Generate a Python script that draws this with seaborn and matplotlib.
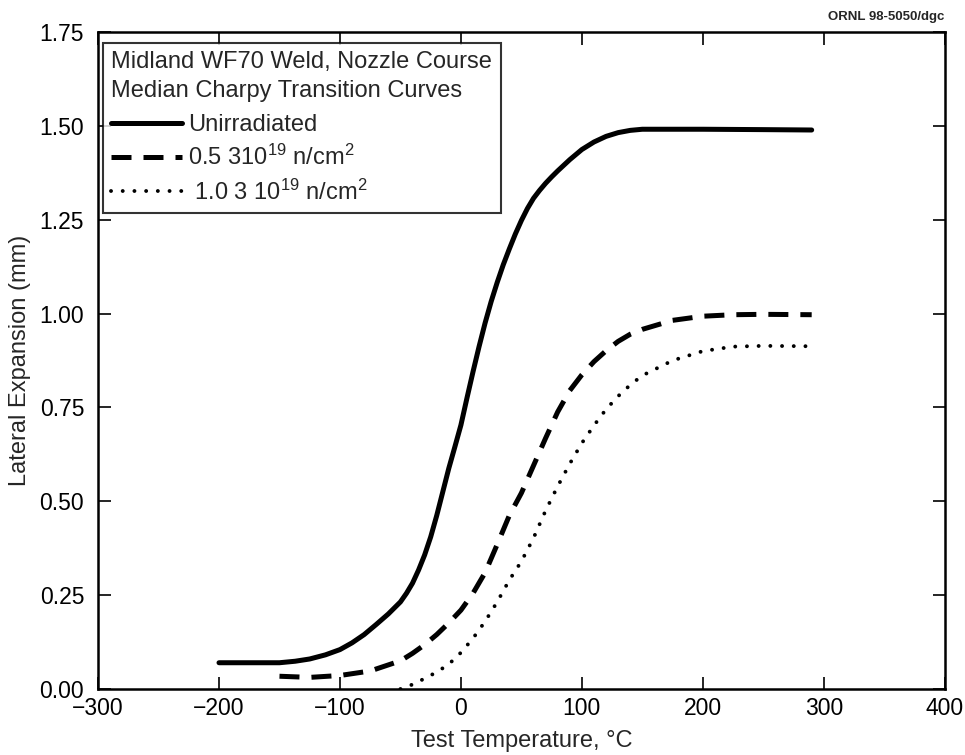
import matplotlib
matplotlib.use("Agg")
import matplotlib.pyplot as plt
import seaborn as sns
import pandas as pd

# ---- data ----
temp_unirr = [-200, -175, -150, -137, -125, -112, -100, -90, -80, -70, -60, -50, -45, -40,
              -35, -30, -25, -20, -15, -10, -5, 0, 5, 10, 15, 20, 25, 30, 35, 40, 45, 50,
              55, 60, 65, 70, 75, 80, 90, 100, 110, 120, 130, 140, 150, 200, 250, 290]
le_unirr = [0.070, 0.070, 0.070, 0.074, 0.080, 0.091, 0.105, 0.123, 0.145, 0.172, 0.200,
            0.232, 0.255, 0.282, 0.317, 0.357, 0.405, 0.462, 0.525, 0.588, 0.645, 0.703,
            0.775, 0.845, 0.912, 0.975, 1.032, 1.083, 1.130, 1.172, 1.212, 1.248, 1.280,
            1.307, 1.328, 1.347, 1.364, 1.380, 1.410, 1.437, 1.457, 1.472, 1.482, 1.488,
            1.491, 1.491, 1.490, 1.489]

temp_05 = [-150, -125, -100, -75, -50, -40, -30, -20, -10, 0, 10, 20, 30, 40, 50, 60,
           70, 80, 90, 100, 110, 120, 130, 140, 150, 175, 200, 225, 250, 290]
le_05 = [0.034, 0.031, 0.036, 0.048, 0.075, 0.095, 0.118, 0.145, 0.176, 0.210, 0.255,
         0.310, 0.385, 0.462, 0.522, 0.595, 0.668, 0.738, 0.795, 0.837, 0.872, 0.901,
         0.926, 0.945, 0.958, 0.982, 0.993, 0.997, 0.998, 0.997]

temp_10 = [-50, -40, -30, -20, -10, 0, 10, 20, 30, 40, 50, 60, 70, 80, 90, 100, 110,
           120, 130, 140, 150, 175, 200, 225, 250, 290]
le_10 = [0.000, 0.012, 0.028, 0.045, 0.066, 0.097, 0.135, 0.180, 0.232, 0.290, 0.340,
         0.402, 0.475, 0.540, 0.600, 0.655, 0.702, 0.745, 0.780, 0.810, 0.835, 0.875,
         0.900, 0.912, 0.914, 0.913]

series_labels = ["Unirradiated",
                 "0.5 310$^{19}$ n/cm$^{2}$",
                 " 1.0 3 10$^{19}$ n/cm$^{2}$"]
legend_title = "Midland WF70 Weld, Nozzle Course\nMedian Charpy Transition Curves"
x_ticks = [-300, -200, -100, 0, 100, 200, 300, 400]
x_tick_labels = ["\u2212300", "\u2212200", "\u2212100", "0", "100", "200", "300", "400"]
y_ticks = [0.0, 0.25, 0.5, 0.75, 1.0, 1.25, 1.5, 1.75]

# ---- styling ----
sns.set_style("ticks")
plt.rcParams["font.family"] = ["Liberation Sans", "DejaVu Sans"]
plt.rcParams["mathtext.default"] = "regular"

fig = plt.figure(figsize=(9.65, 7.55), dpi=100)
ax = fig.add_axes([0.1016, 0.0874, 0.8774, 0.8702])

df1 = pd.DataFrame({"T": temp_unirr, "LE": le_unirr})
df2 = pd.DataFrame({"T": temp_05, "LE": le_05})
df3 = pd.DataFrame({"T": temp_10, "LE": le_10})

sns.lineplot(data=df1, x="T", y="LE", ax=ax, color="black", lw=3.6,
             label=series_labels[0], solid_capstyle="round", solid_joinstyle="round")
sns.lineplot(data=df2, x="T", y="LE", ax=ax, color="black", lw=3.6,
             label=series_labels[1])
ax.lines[-1].set_dashes([4.0, 2.4])
sns.lineplot(data=df3, x="T", y="LE", ax=ax, color="black", lw=2.8,
             label=series_labels[2])
ax.lines[-1].set_dashes([0.01, 3.0])
ax.lines[-1].set_dash_capstyle("round")

ax.set_xlim(-300, 400)
ax.set_ylim(0, 1.75)
ax.set_xticks(x_ticks)
ax.set_xticklabels(x_tick_labels)
ax.set_yticks(y_ticks)
ax.set_yticklabels([f"{v:.2f}" for v in y_ticks])
ax.tick_params(direction="in", length=9, width=1.2, top=True, right=True,
               labelsize=16.5, colors="black")
ax.tick_params(axis="x", pad=6)
ax.tick_params(axis="y", pad=10)
for s in ax.spines.values():
    s.set_linewidth(1.8)
    s.set_color("black")

ax.set_xlabel("Test Temperature, \u00b0C", fontsize=17, labelpad=7)
ax.set_ylabel("Lateral Expansion (mm)", fontsize=17, labelpad=6)

leg = ax.legend(loc="upper left", bbox_to_anchor=(0.006, 0.984), title=legend_title,
                fontsize=17, title_fontsize=17, frameon=True, fancybox=False,
                edgecolor="black", handlelength=3.0, handletextpad=0.25,
                borderpad=0.35, labelspacing=0.38, borderaxespad=0.0)
leg.get_frame().set_linewidth(1.5)
leg.get_title().set_linespacing(1.4)
leg._legend_box.align = "left"
leg._legend_box.sep = 9

fig.text(0.979, 0.978, "ORNL 98-5050/dgc", ha="right", va="center", fontsize=9.5,
         fontweight="bold")

fig.savefig("out.png", dpi=100)
